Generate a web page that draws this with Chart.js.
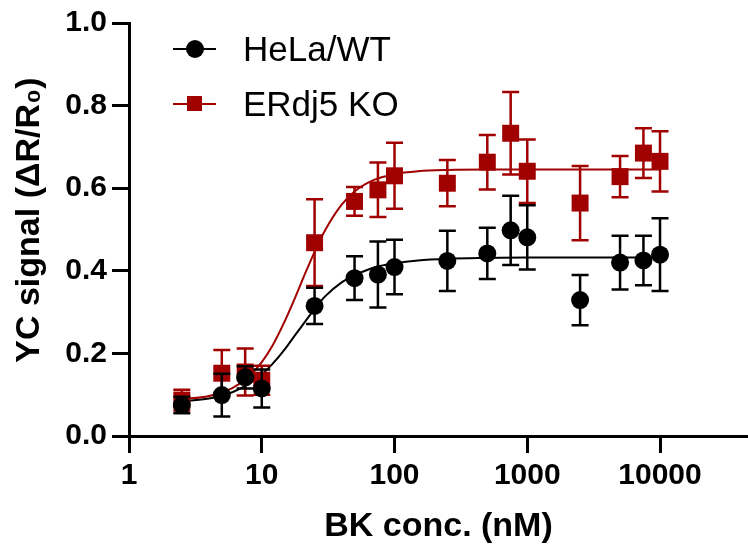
<!DOCTYPE html>
<html>
<head>
<meta charset="utf-8">
<script src="https://cdn.jsdelivr.net/npm/chart.js@4.4.1/dist/chart.umd.min.js"></script>
<style>
  html, body { margin: 0; padding: 0; background: #fff; overflow: hidden; }
  #wrap { position: relative; width: 748px; height: 551px; overflow: hidden; }
  #c { position: absolute; left: 0; top: 0; }
  #legend { position: absolute; left: 0; top: 0; font-family: "Liberation Sans", Arial, sans-serif; }
  .row { position: absolute; left: 173px; height: 40px; width: 260px; }
  .line { position: absolute; left: 0; width: 43px; height: 2px; top: 19px; }
  .mk { position: absolute; }
  .txt { position: absolute; left: 70px; top: 0; line-height: 40px; font-size: 35px; color: #000; white-space: nowrap; }
</style>
</head>
<body>
<div id="wrap">
  <canvas id="c" width="760" height="551"></canvas>
  <div id="legend"></div>
</div>
<script>
// ---- data ----
const concentrations = [2.5, 5, 7.5, 10, 25, 50, 75, 100, 250, 500, 750, 1000, 2500, 5000, 7500, 10000];
const wtMean = [0.075, 0.099, 0.142, 0.115, 0.315, 0.382, 0.391, 0.409, 0.424, 0.442, 0.498, 0.481, 0.329, 0.420, 0.425, 0.439];
const wtErr  = [0.020, 0.052, 0.027, 0.046, 0.044, 0.053, 0.080, 0.066, 0.073, 0.062, 0.084, 0.078, 0.061, 0.065, 0.060, 0.088];
const koMean = [0.087, 0.152, 0.155, 0.135, 0.468, 0.568, 0.596, 0.630, 0.612, 0.663, 0.733, 0.641, 0.564, 0.628, 0.685, 0.665];
const koErr  = [0.025, 0.056, 0.057, 0.035, 0.105, 0.035, 0.066, 0.080, 0.056, 0.066, 0.100, 0.077, 0.090, 0.050, 0.060, 0.073];
// fitted curves
const curveX  = [2.5, 4, 6, 8, 10, 12, 15, 18, 21, 25, 30, 40, 50, 70, 100, 150, 250, 500, 1000, 3000, 10000];
const wtCurve = [0.084, 0.091, 0.106, 0.126, 0.149, 0.174, 0.211, 0.246, 0.275, 0.308, 0.338, 0.372, 0.389, 0.408, 0.418, 0.425, 0.429, 0.431, 0.432, 0.432, 0.432];
const koCurve = [0.089, 0.097, 0.116, 0.144, 0.179, 0.218, 0.280, 0.338, 0.390, 0.446, 0.498, 0.560, 0.592, 0.620, 0.634, 0.641, 0.644, 0.645, 0.645, 0.645, 0.645];
const xTickValues = [1, 10, 100, 1000, 10000];
const yTickValues = [0, 0.2, 0.4, 0.6, 0.8, 1.0];
const seriesNames = ['HeLa/WT', 'ERdj5 KO'];
const xTitle = 'BK conc. (nM)';
const yTitle = '  YC signal (\u0394R/R\u2080)';

const BLACK = '#000000';
const RED = '#a00000';
const FONT = '"Liberation Sans", Arial, sans-serif';

const pts = (xs, ys) => xs.map((x, i) => ({ x: x, y: ys[i] }));

const errPlugin = {
  id: 'errbars',
  beforeDatasetDraw(chart, args) {
    const ds = chart.data.datasets[args.index];
    if (!ds.errors) return;
    const xs = chart.scales.x, ys = chart.scales.y, ctx = chart.ctx;
    ctx.save();
    ctx.strokeStyle = ds.borderColor;
    ctx.lineWidth = 2.5;
    ds.data.forEach((p, i) => {
      const px = xs.getPixelForValue(p.x);
      const top = ys.getPixelForValue(p.y + ds.errors[i]);
      const bot = ys.getPixelForValue(p.y - ds.errors[i]);
      ctx.beginPath();
      ctx.moveTo(px, top); ctx.lineTo(px, bot);
      ctx.moveTo(px - 8.5, top); ctx.lineTo(px + 8.5, top);
      ctx.moveTo(px - 8.5, bot); ctx.lineTo(px + 8.5, bot);
      ctx.stroke();
    });
    ctx.restore();
  }
};

new Chart(document.getElementById('c'), {
  type: 'scatter',
  data: {
    datasets: [
      { label: seriesNames[0], data: pts(concentrations, wtMean), errors: wtErr, order: 1,
        pointStyle: 'circle', pointRadius: 9, pointHoverRadius: 9, backgroundColor: BLACK, borderColor: BLACK, borderWidth: 0, showLine: false },
      { label: seriesNames[1], data: pts(concentrations, koMean), errors: koErr, order: 2,
        pointStyle: 'rect', pointRadius: 12, pointHoverRadius: 12, backgroundColor: RED, borderColor: RED, borderWidth: 0, showLine: false },
      { label: 'fit WT', data: pts(curveX, wtCurve), order: 3, showLine: true, pointRadius: 0,
        borderColor: BLACK, borderWidth: 2, cubicInterpolationMode: 'monotone', fill: false },
      { label: 'fit KO', data: pts(curveX, koCurve), order: 4, showLine: true, pointRadius: 0,
        borderColor: RED, borderWidth: 2, cubicInterpolationMode: 'monotone', fill: false }
    ]
  },
  options: {
    responsive: false,
    animation: false,
    devicePixelRatio: 1,
    layout: { padding: { left: 5, top: 22, right: 0, bottom: 0 } },
    plugins: { legend: { display: false }, tooltip: { enabled: false } },
    scales: {
      x: {
        type: 'logarithmic', min: 1, max: 46000,
        afterBuildTicks: (s) => { s.ticks = xTickValues.map(v => ({ value: v })); },
        afterFit: (s) => { s.height = 551 - 436; s.paddingRight = 0; s.paddingLeft = 0; },
        ticks: { color: BLACK, font: { family: FONT, size: 30, weight: 'bold' }, padding: 5, maxRotation: 0, autoSkip: false,
          callback: (v) => String(v) },
        grid: { drawOnChartArea: false, drawTicks: true, tickLength: 17, tickWidth: 3, tickColor: BLACK },
        border: { display: true, color: BLACK, width: 3 },
        title: { display: true, text: xTitle, color: BLACK, font: { family: FONT, size: 34, weight: 'bold' }, padding: { top: 0, bottom: 4 } }
      },
      y: {
        min: 0, max: 1,
        afterBuildTicks: (s) => { s.ticks = yTickValues.map(v => ({ value: v })); },
        afterFit: (s) => { s.width = 129 - 5; },
        ticks: { color: BLACK, font: { family: FONT, size: 30, weight: 'bold' }, padding: 5,
          callback: (v) => Number(v).toFixed(1) },
        grid: { drawOnChartArea: false, drawTicks: true, tickLength: 17, tickWidth: 3, tickColor: BLACK },
        border: { display: true, color: BLACK, width: 3 },
        title: { display: true, text: yTitle, color: BLACK, font: { family: FONT, size: 34, weight: 'bold' }, padding: { top: 4, bottom: 0 } }
      }
    }
  },
  plugins: [errPlugin]
});

// HTML legend
const legend = document.getElementById('legend');
const legendItems = [
  { name: seriesNames[0], color: BLACK, shape: 'circle', top: 29 },
  { name: seriesNames[1], color: RED, shape: 'square', top: 84 }
];
legendItems.forEach(it => {
  const row = document.createElement('div');
  row.className = 'row';
  row.style.top = it.top + 'px';
  const ln = document.createElement('div');
  ln.className = 'line'; ln.style.background = it.color;
  const mk = document.createElement('div');
  mk.className = 'mk'; mk.style.background = it.color;
  if (it.shape === 'circle') {
    mk.style.width = '18px'; mk.style.height = '18px'; mk.style.borderRadius = '50%';
    mk.style.left = '13px'; mk.style.top = '11px';
  } else {
    mk.style.width = '15px'; mk.style.height = '15px';
    mk.style.left = '14px'; mk.style.top = '12px';
  }
  const tx = document.createElement('div');
  tx.className = 'txt'; tx.textContent = it.name;
  row.appendChild(ln); row.appendChild(mk); row.appendChild(tx);
  legend.appendChild(row);
});
</script>
</body>
</html>
